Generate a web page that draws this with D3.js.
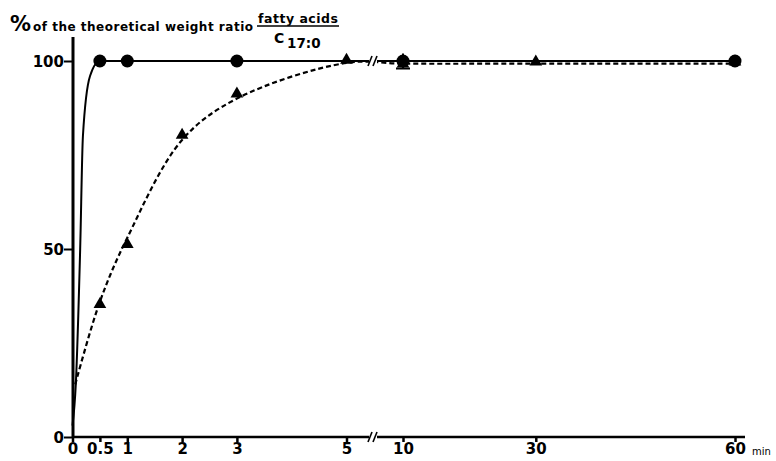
<!DOCTYPE html>
<html>
<head>
<meta charset="utf-8">
<script src="https://cdn.jsdelivr.net/npm/d3@7"></script>
<style>
body{margin:0;background:#fff;}
text{font-family:'DejaVu Sans',sans-serif;font-weight:bold;fill:#000;}
</style>
</head>
<body>
<script>
// x ticks (min), broken axis between 5 and 10
var xTicks=[0,0.5,1,2,3,5,10,30,60];
var xTickLabels=['0','0.5','1','2','3','5','10','30','60'];
var yTicks=[0,50,100];

// circles (solid curve)
var circleTimes=[0.5,1,3,10,60];
var circleValues=[100,100,100,100,100];
// triangles (dashed curve)
var triTimes=[0.5,1,2,3,5,10,30,60];
var triValues=[35,51,80,91,100,99,99.5,99.5];

// curve traces
var solidCurveT=[0,0.06,0.14,0.19,0.32,0.5,1,3,10,60];
var solidCurveV=[3,14,50,80,96,100,100,100,100,100];
var dashCurveT=[0.05,0.5,1,2,3,5,10,30,60];
var dashCurveV=[14,36,53,79,90,99.5,99.3,99.3,99.3];

var width=776,height=461;
var svg=d3.select('body').append('svg')
    .attr('width',width)
    .attr('height',height);

var xScale=d3.scaleLinear()
    .domain([0,5,10,60])
    .range([72.5,346.5,403,735]);
var yScale=d3.scaleLinear()
    .domain([0,100])
    .range([437,61]);

var breakX=373;

// title
svg.append('text').attr('x',10).attr('y',31).style('font-size','21px').text('%');
svg.append('text').attr('x',33).attr('y',31).style('font-size','12px')
    .attr('textLength',220).attr('lengthAdjust','spacing').text('of the theoretical weight ratio');
svg.append('text').attr('x',258).attr('y',23).style('font-size','12.5px')
    .attr('textLength',80).attr('lengthAdjust','spacing').text('fatty acids');
svg.append('line').attr('x1',257).attr('x2',339).attr('y1',26).attr('y2',26)
    .attr('stroke','#000').attr('stroke-width',1.5);
svg.append('text').attr('x',274).attr('y',43).style('font-size','14px').text('C');
svg.append('text').attr('x',287).attr('y',48).style('font-size','13.5px').text('17:0');

// lines
var solidLine=d3.line()
    .x(function(d,i){return xScale(solidCurveT[i]);})
    .y(function(d,i){return yScale(solidCurveV[i]);})
    .curve(d3.curveMonotoneX);
svg.append('path')
    .attr('d',solidLine(solidCurveT))
    .attr('fill','none').attr('stroke','#000').attr('stroke-width',2);

var dashLine=d3.line()
    .x(function(d,i){return xScale(dashCurveT[i]);})
    .y(function(d,i){return yScale(dashCurveV[i]);})
    .curve(d3.curveCatmullRom.alpha(0.5));
svg.append('path')
    .attr('d',dashLine(dashCurveT))
    .attr('fill','none').attr('stroke','#000').attr('stroke-width',2.2)
    .attr('stroke-dasharray','5,3');

// y axis
var yAxis=d3.axisLeft(yScale).tickValues(yTicks).tickSize(9).tickFormat(d3.format('d'));
var gy=svg.append('g').attr('transform','translate(73,0)').call(yAxis);
gy.select('.domain').remove();
gy.selectAll('.tick line').attr('stroke-width',2);
gy.selectAll('.tick text').style('font-size','15px').attr('x',-9).attr('dy','0.36em');
svg.append('line').attr('x1',73).attr('x2',73).attr('y1',37).attr('y2',438)
    .attr('stroke','#000').attr('stroke-width',3);

// x axis
var xAxis=d3.axisBottom(xScale).tickValues(xTicks).tickSize(5)
    .tickFormat(function(d,i){return xTickLabels[i];});
var gx=svg.append('g').attr('transform','translate(0,437)').call(xAxis);
gx.select('.domain').remove();
gx.selectAll('.tick line').attr('stroke-width',2.5);
gx.selectAll('.tick text').style('font-size','15px').attr('y',6);
svg.append('line').attr('x1',72).attr('x2',breakX-4).attr('y1',437).attr('y2',437)
    .attr('stroke','#000').attr('stroke-width',2.5);
svg.append('line').attr('x1',breakX+4).attr('x2',745).attr('y1',437).attr('y2',437)
    .attr('stroke','#000').attr('stroke-width',2.5);
svg.append('text').attr('x',752).attr('y',455).style('font-size','10px').style('font-weight','normal').text('min');

// break marks
[437,61].forEach(function(yy){
    svg.append('rect').attr('x',breakX-4).attr('y',yy-5).attr('width',8).attr('height',10).attr('fill','#fff');
    [-3,2].forEach(function(dx){
        svg.append('line')
            .attr('x1',breakX+dx-2).attr('y1',yy+5)
            .attr('x2',breakX+dx+2).attr('y2',yy-5)
            .attr('stroke','#000').attr('stroke-width',1.6);
    });
});

// error bar at 10 min
svg.append('line').attr('x1',xScale(10)-7).attr('x2',xScale(10)+7)
    .attr('y1',yScale(98)).attr('y2',yScale(98)).attr('stroke','#000').attr('stroke-width',2);
svg.append('line').attr('x1',xScale(10)).attr('x2',xScale(10))
    .attr('y1',yScale(98)).attr('y2',yScale(102)).attr('stroke','#000').attr('stroke-width',2);

// circles
svg.selectAll('circle.dot')
    .data(circleTimes)
    .enter()
    .append('circle')
    .attr('class','dot')
    .attr('cx',function(d){return xScale(d);})
    .attr('cy',function(d,i){return yScale(circleValues[i]);})
    .attr('r',6.5)
    .attr('fill','#000');

// triangles
var tri=d3.symbol().type(d3.symbolTriangle).size(70);
svg.selectAll('path.tri')
    .data(triTimes)
    .enter()
    .append('path')
    .attr('class','tri')
    .attr('d',tri)
    .attr('transform',function(d,i){
        return 'translate('+xScale(d)+','+(yScale(triValues[i])-1)+')';
    })
    .attr('fill','#000');
</script>
</body>
</html>
